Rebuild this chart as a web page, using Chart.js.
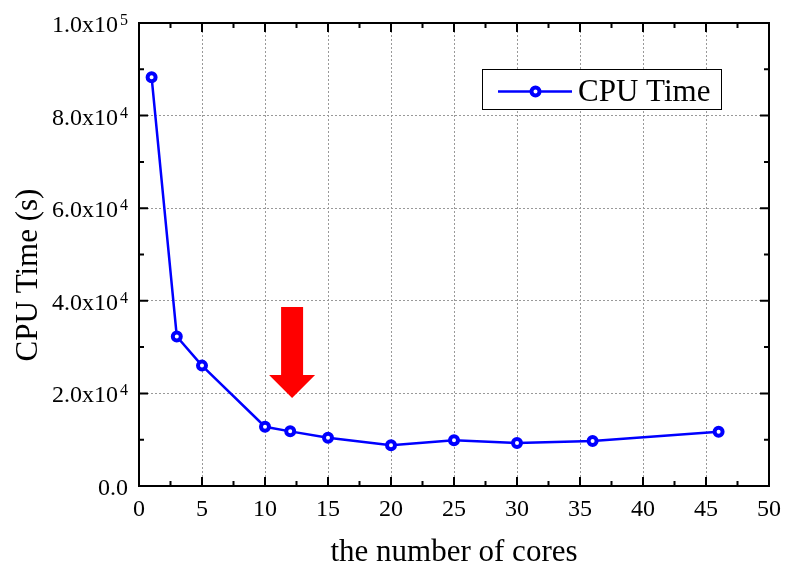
<!DOCTYPE html>
<html>
<head>
<meta charset="utf-8">
<script src="https://cdn.jsdelivr.net/npm/chart.js@4"></script>
<style>
  html, body { margin: 0; padding: 0; background: #fff; }
  #wrap { width: 786px; height: 567px; }
</style>
</head>
<body>
<div id="wrap"><canvas id="cpuChart" width="786" height="567"></canvas></div>
<script>
// data
const cores = [1, 3, 5, 10, 12, 15, 20, 25, 30, 36, 46];
const cpuTime = [88300, 32300, 26000, 12800, 11800, 10400, 8800, 9900, 9300, 9700, 11700];
const xTicks = [0, 5, 10, 15, 20, 25, 30, 35, 40, 45, 50];
const yTicks = [0, 20000, 40000, 60000, 80000, 100000];
const yTickLabels = [['0.0', ''], ['2.0x10', '4'], ['4.0x10', '4'], ['6.0x10', '4'], ['8.0x10', '4'], ['1.0x10', '5']];
const seriesName = 'CPU Time';
const xTitle = 'the number of cores';
const yTitle = 'CPU Time (s)';

const SERIF = '"Liberation Serif", "Times New Roman", serif';
const BLUE = '#0000ff';

// frame, ticks, labels, legend and the arrow
const decorPlugin = {
	id: 'decor',
	afterDatasetsDraw(chart) {
		const ctx = chart.ctx;
		const a = chart.chartArea;
		const xs = chart.scales.x;
		const ys = chart.scales.y;
		ctx.save();

		// arrow pointing at 12 cores
		const tipX = xs.getPixelForValue(12.15);
		const tipY = ys.getPixelForValue(19000);
		ctx.fillStyle = '#ff0000';
		ctx.beginPath();
		ctx.moveTo(tipX - 11, tipY - 91);
		ctx.lineTo(tipX + 11, tipY - 91);
		ctx.lineTo(tipX + 11, tipY - 23);
		ctx.lineTo(tipX + 23, tipY - 23);
		ctx.lineTo(tipX, tipY);
		ctx.lineTo(tipX - 23, tipY - 23);
		ctx.lineTo(tipX - 11, tipY - 23);
		ctx.closePath();
		ctx.fill();

		// minor + major ticks, inward on all four sides
		ctx.strokeStyle = '#000';
		ctx.lineWidth = 2;
		ctx.beginPath();
		for (let v = 0; v <= 50; v += 2.5) {
			const px = xs.getPixelForValue(v);
			const len = (v % 5 === 0) ? 9 : 5;
			ctx.moveTo(px, a.bottom); ctx.lineTo(px, a.bottom - len);
			ctx.moveTo(px, a.top); ctx.lineTo(px, a.top + len);
		}
		for (let v = 0; v <= 100000; v += 10000) {
			const py = ys.getPixelForValue(v);
			const len = (v % 20000 === 0) ? 9 : 5;
			ctx.moveTo(a.left, py); ctx.lineTo(a.left + len, py);
			ctx.moveTo(a.right, py); ctx.lineTo(a.right - len, py);
		}
		ctx.stroke();

		// frame
		ctx.lineWidth = 2;
		ctx.strokeRect(a.left, a.top, a.right - a.left, a.bottom - a.top);

		// x tick labels
		ctx.fillStyle = '#000';
		ctx.font = '24px ' + SERIF;
		ctx.textAlign = 'center';
		ctx.textBaseline = 'alphabetic';
		xTicks.forEach(function(v) {
			ctx.fillText(String(v), xs.getPixelForValue(v), a.bottom + 30);
		});

		// y tick labels with superscript exponent
		yTicks.forEach(function(v, i) {
			const py = ys.getPixelForValue(v);
			const base = yTickLabels[i][0];
			const sup = yTickLabels[i][1];
			const right = a.left - 11;
			ctx.textAlign = 'right';
			let supW = 0;
			if (sup) {
				ctx.font = '16px ' + SERIF;
				supW = ctx.measureText(sup).width + 2;
				ctx.fillText(sup, right, py + 2);
			}
			ctx.font = '24px ' + SERIF;
			ctx.fillText(base, right - supW, py + 9);
		});

		// axis titles
		ctx.font = '31px ' + SERIF;
		ctx.textAlign = 'center';
		ctx.fillText(xTitle, (a.left + a.right) / 2, 561);
		ctx.save();
		ctx.translate(37, 275);
		ctx.rotate(-Math.PI / 2);
		ctx.fillText(yTitle, 0, 0);
		ctx.restore();

		// legend box
		const lx = 482, ly = 69, lw = 239, lh = 40;
		ctx.fillStyle = '#fff';
		ctx.fillRect(lx, ly, lw, lh);
		ctx.lineWidth = 1;
		ctx.strokeStyle = '#000';
		ctx.strokeRect(lx + 0.5, ly + 0.5, lw, lh);
		const my = 91.5;
		ctx.strokeStyle = BLUE;
		ctx.lineWidth = 2.5;
		ctx.beginPath();
		ctx.moveTo(498, my); ctx.lineTo(572, my);
		ctx.stroke();
		ctx.lineWidth = 4;
		ctx.fillStyle = '#fff';
		ctx.beginPath();
		ctx.arc(535.5, my, 4, 0, Math.PI * 2);
		ctx.fill();
		ctx.stroke();
		ctx.fillStyle = '#000';
		ctx.font = '31px ' + SERIF;
		ctx.textAlign = 'left';
		ctx.fillText(seriesName, 578, 101);

		ctx.restore();
	}
};

new Chart(document.getElementById('cpuChart').getContext('2d'), {
	type: 'line',
	data: {
		datasets: [{
			label: seriesName,
			data: cores.map(function(c, i) { return { x: c, y: cpuTime[i] }; }),
			borderColor: BLUE,
			borderWidth: 2.5,
			backgroundColor: '#fff',
			pointBackgroundColor: '#fff',
			pointBorderColor: BLUE,
			pointBorderWidth: 4,
			pointRadius: 4,
			tension: 0
		}]
	},
	options: {
		responsive: false,
		animation: false,
		devicePixelRatio: 1,
		layout: { padding: { left: 139, right: 17, top: 23, bottom: 81 } },
		plugins: { legend: { display: false }, tooltip: { enabled: false } },
		scales: {
			x: {
				type: 'linear', min: 0, max: 50,
				ticks: { display: false, stepSize: 5 },
				grid: { color: '#999', lineWidth: 1, drawTicks: false },
				border: { display: false, dash: [2, 2] }
			},
			y: {
				type: 'linear', min: 0, max: 100000,
				ticks: { display: false, stepSize: 20000 },
				grid: { color: '#999', lineWidth: 1, drawTicks: false },
				border: { display: false, dash: [2, 2] }
			}
		}
	},
	plugins: [decorPlugin]
});
</script>
</body>
</html>
